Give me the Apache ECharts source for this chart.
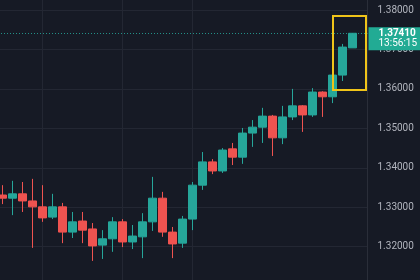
<!DOCTYPE html>
<html><head><meta charset="utf-8">
<script src="https://cdn.jsdelivr.net/npm/echarts@6/dist/echarts.min.js"></script>
<style>html,body{margin:0;padding:0;background:#161a25;overflow:hidden;width:420px;height:280px;position:relative}
#c{position:absolute;left:-5px;top:-30px;width:425px;height:320px}</style>
</head><body><div id="c"></div>
<script>
// 15-minute bars, plus one empty slot at the right
const categories = ['05:00','05:15','05:30','05:45','06:00','06:15','06:30','06:45','07:00','07:15','07:30','07:45',
  '08:00','08:15','08:30','08:45','09:00','09:15','09:30','09:45','10:00','10:15','10:30','10:45',
  '11:00','11:15','11:30','11:45','12:00','12:15','12:30','12:45','13:00','13:15','13:30','13:45','14:00'];
const opens  = [1.3331,1.3323,1.3334,1.3316,1.3301,1.3275,1.3301,1.3237,1.3265,1.3245,1.3204,1.3220,
  1.3263,1.3212,1.3225,1.3263,1.3323,1.3237,1.3209,1.3270,1.3356,1.3415,1.3392,1.3448,
  1.3427,1.3488,1.3503,1.3531,1.3476,1.3529,1.3557,1.3534,1.3592,1.3580,1.3635,1.3704];
const closes = [1.3323,1.3334,1.3316,1.3301,1.3273,1.3301,1.3237,1.3263,1.3242,1.3202,1.3220,1.3263,
  1.3212,1.3227,1.3263,1.3323,1.3237,1.3207,1.3270,1.3356,1.3415,1.3392,1.3445,1.3427,
  1.3488,1.3503,1.3531,1.3476,1.3529,1.3557,1.3534,1.3592,1.3580,1.3635,1.3706,1.3741];
const lows   = [1.3308,1.3280,1.3288,1.3197,1.3263,1.3270,1.3209,1.3222,1.3209,1.3164,1.3169,1.3187,
  1.3199,1.3194,1.3171,1.3240,1.3225,1.3171,1.3197,1.3242,1.3344,1.3384,1.3387,1.3407,
  1.3410,1.3453,1.3463,1.3430,1.3460,1.3521,1.3491,1.3529,1.3529,1.3564,1.3620,1.3704];
const highs  = [1.3356,1.3367,1.3364,1.3372,1.3356,1.3334,1.3311,1.3288,1.3288,1.3260,1.3242,1.3275,
  1.3270,1.3255,1.3285,1.3377,1.3339,1.3250,1.3278,1.3364,1.3440,1.3422,1.3450,1.3463,
  1.3501,1.3521,1.3552,1.3534,1.3557,1.3600,1.3559,1.3602,1.3594,1.3637,1.3714,1.3741];
const priceTicks = [1.31,1.32,1.33,1.34,1.35,1.36,1.37,1.38,1.39];
const timeGridAt = ['06:00','08:00','09:45'];
const lastPrice = 1.3741;
const countdown = '13:56:15';
const boxHigh = 1.3785, boxLow = 1.3597, boxFromIndex = 33;

const UP = '#26a69a', DOWN = '#ef5350', GRID = '#232733', TXT = '#b2b5be';
const ohlc = opens.map((o, i) => [o, closes[i], lows[i], highs[i]]);

const chart = echarts.init(document.getElementById('c'), null, {renderer: 'canvas'});
chart.setOption({
  backgroundColor: '#161a25',
  animation: false,
  grid: {left: 2.5, width: 370, top: 0.55, height: 315.6, containLabel: false, outerBoundsMode: 'none'},
  xAxis: {type: 'category', data: categories, boundaryGap: true,
    axisLine: {show: false}, axisTick: {show: false}, axisLabel: {show: false}, splitLine: {show: false}},
  yAxis: {type: 'value', position: 'right', min: priceTicks[0], max: priceTicks[priceTicks.length - 1], interval: 0.01,
    axisLine: {show: true, lineStyle: {color: '#2a2e39'}}, axisTick: {show: false},
    axisLabel: {color: TXT, fontSize: 10, fontFamily: 'Roboto', margin: 10, align: 'left',
      formatter: v => v.toFixed(5)},
    splitLine: {show: true, lineStyle: {color: GRID, width: 1}}},
  series: [
    {type: 'line', data: [], z: 1, silent: true,
      markLine: {silent: true, symbol: 'none', z: 1, label: {show: false},
        lineStyle: {color: GRID, type: 'solid', width: 1},
        data: timeGridAt.map(c => ({xAxis: c}))}},
    {type: 'candlestick', data: ohlc, barWidth: 8, z: 2,
      itemStyle: {color: UP, color0: DOWN, borderColor: UP, borderColor0: DOWN, borderWidth: 1}}
  ]
});

const W = chart.getWidth();
const yP = chart.convertToPixel({yAxisIndex: 0}, lastPrice);
const x0 = chart.convertToPixel({xAxisIndex: 0}, categories[0]);
const x33 = chart.convertToPixel({xAxisIndex: 0}, categories[boxFromIndex]);
const xLast = chart.convertToPixel({xAxisIndex: 0}, categories[categories.length - 1]);
const slot = chart.convertToPixel({xAxisIndex: 0}, categories[1]) - x0;
const yTop = chart.convertToPixel({yAxisIndex: 0}, boxHigh);
const yBot = chart.convertToPixel({yAxisIndex: 0}, boxLow);
const axisX = xLast + slot / 2;
const yLine = Math.round(yP) + 0.5;

chart.setOption({graphic: [
  {type: 'line', z: 50, silent: true,
    shape: {x1: 0, y1: yLine, x2: axisX, y2: yLine},
    style: {stroke: UP, lineWidth: 1, lineDash: [1, 2], opacity: 0.85}},
  {type: 'rect', z: 100, silent: true,
    shape: {x: x33 + 0.5, y: yTop, width: xLast + slot * 0.35 - x33 - 0.5, height: yBot - yTop},
    style: {fill: 'none', stroke: '#f0c419', lineWidth: 2}},
  {type: 'rect', z: 100, silent: true,
    shape: {x: axisX + 1, y: yP - 6, width: W - axisX, height: 23},
    style: {fill: '#22ab94'}},
  {type: 'text', z: 101, silent: true, x: axisX + 11, y: yP,
    style: {text: lastPrice.toFixed(5), fill: '#ffffff', font: 'bold 10px Roboto', textVerticalAlign: 'middle'}},
  {type: 'text', z: 101, silent: true, x: axisX + 11, y: yP + 10,
    style: {text: countdown, fill: '#ffffff', font: '10px Roboto', textVerticalAlign: 'middle'}}
]});
</script></body></html>
